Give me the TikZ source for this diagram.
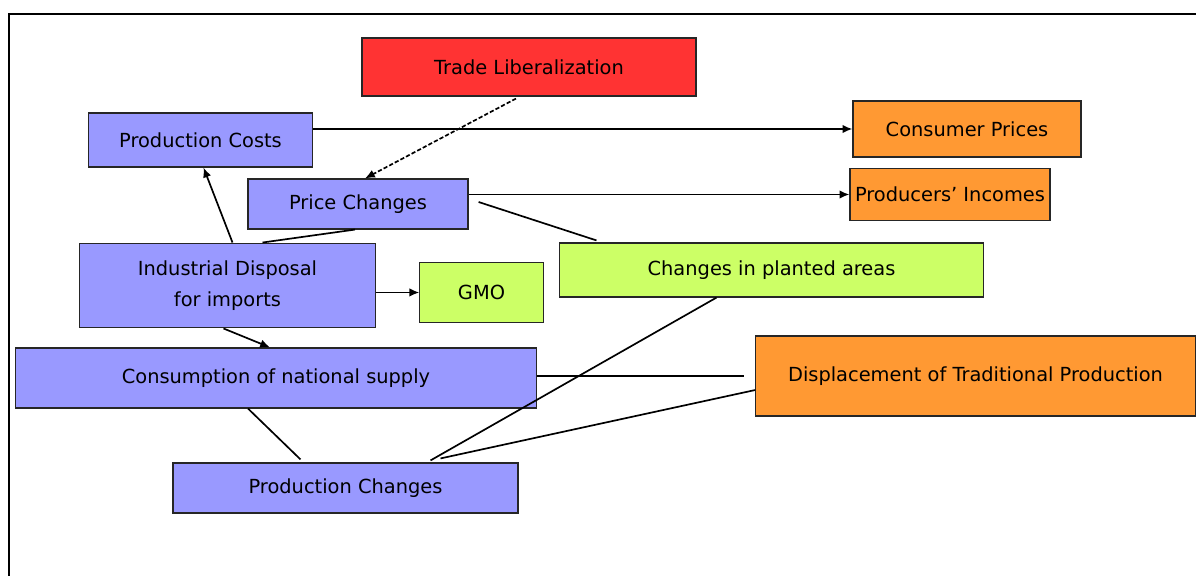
\documentclass[tikz,border=0pt]{standalone}
\usepackage{fontspec}
\setmainfont{DejaVu Sans}
\usetikzlibrary{arrows.meta,calc}

\definecolor{boxblue}{HTML}{9999FF}
\definecolor{boxred}{HTML}{FF3333}
\definecolor{boxorange}{HTML}{FF9933}
\definecolor{boxgreen}{HTML}{CCFF66}

\begin{document}
\begin{tikzpicture}[
  x=0.025cm, y=-0.025cm,
  font=\fontsize{13.8}{16}\selectfont,
  >=Latex,
  box/.style={
    draw=black!85,
    line width=0.8pt,
    inner sep=1pt,
    align=center
  },
  flow/.style={-{Latex[length=7pt,width=6pt]}, line width=1.2pt},
  link/.style={line width=1.2pt},
  hint/.style={-{Latex[length=7pt,width=6pt]}, line width=1.2pt, dash pattern=on 3pt off 1.5pt}
]
\useasboundingbox (0,0) rectangle (1196,576);

% Frame
\draw[line width=1.8pt] (9,576) -- (9,14) -- (1196,14);

% Boxes
\node[box, fill=boxred, minimum width=8.35cm, minimum height=1.45cm] (trade) at (529,67) {Trade Liberalization};
\node[box, fill=boxblue, minimum width=5.62cm, minimum height=1.35cm] (costs) at (200.5,140) {Production Costs};
\node[box, fill=boxorange, minimum width=5.7cm, minimum height=1.4cm] (consumer) at (967,129) {Consumer Prices};
\node[box, fill=boxblue, minimum width=5.5cm, minimum height=1.25cm] (price) at (358,204) {Price Changes};
\node[box, fill=boxorange, minimum width=5cm, minimum height=1.32cm] (incomes) at (950,194.5) {Producers' Incomes};
\node[box, fill=boxblue, minimum width=7.38cm, minimum height=2.12cm] (disposal) at (227.5,285.5) {Industrial Disposal\\[6pt]for imports};
\node[box, fill=boxgreen, minimum width=3.08cm, minimum height=1.52cm] (gmo) at (481.5,292.5) {GMO};
\node[box, fill=boxgreen, minimum width=10.58cm, minimum height=1.35cm] (planted) at (771.5,270) {Changes in planted areas};
\node[box, fill=boxblue, minimum width=13cm, minimum height=1.5cm] (consumption) at (276,378) {Consumption of national supply};
\node[box, fill=boxorange, minimum width=10.98cm, minimum height=2cm] (displacement) at (975.5,376) {Displacement of Traditional Production};
\node[box, fill=boxblue, minimum width=8.62cm, minimum height=1.25cm] (prodchanges) at (345.5,488) {Production Changes};

% Arrows
\draw[flow] (costs.east |- consumer.west) -- (consumer.west);
\draw[flow] (price.east |- incomes.west) -- (incomes.west);
\draw[hint] ($(trade.south)+(-13,2)$) -- ($(price.north)+(7,0)$);
\draw[flow] ($(disposal.north)+(5,0)$) -- ($(costs.south)+(3,0)$);
\draw[flow] (disposal.east |- gmo.west) -- (gmo.west);
\draw[flow] ($(disposal.south)+(-4,0)$) -- ($(consumption.north)+(-6,0)$);

% Plain links
\draw[link] ($(disposal.north)+(35,0)$) -- ($(price.south)+(-3,0)$);
\draw[link] ($(price.east)+(10,-2)$) -- ($(planted.north)+(-175,-2)$);
\draw[link] (consumption.east |- displacement.west) -- ($(displacement.west)+(-11,0)$);
\draw[link] ($(consumption.south)+(-28,0)$) -- ($(prodchanges.north)+(-45,-3)$);
\draw[link] ($(prodchanges.north)+(85,-2)$) -- ($(planted.south)+(-55,0)$);
\draw[link] ($(prodchanges.north)+(95,-4)$) -- ($(displacement.west)+(0,14)$);

\end{tikzpicture}
\end{document}
